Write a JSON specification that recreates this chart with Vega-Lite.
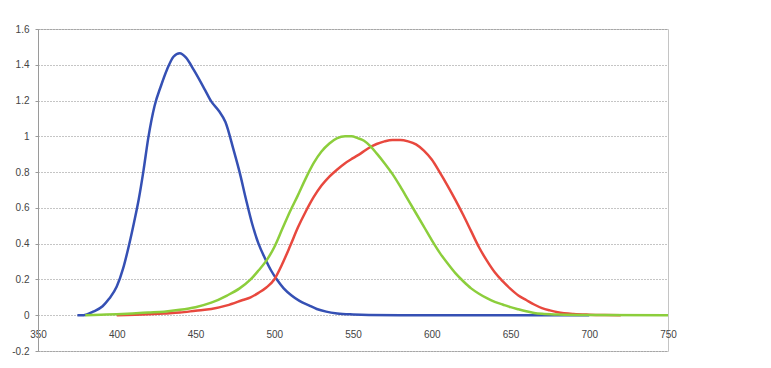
{
  "$schema": "https://vega.github.io/schema/vega-lite/v6.json",
  "autosize": "none",
  "width": 630,
  "height": 322,
  "padding": {"left": 38, "top": 29, "right": 103, "bottom": 17},
  "background": "white",
  "config": {
    "view": {"stroke": "#c4c4c4", "strokeWidth": 1},
    "axis": {"labelFont": "Liberation Sans", "labelFontSize": 10, "labelColor": "#444"}
  },
  "datasets": {
    "S": [
      {"wl": 375, "v": 0}, {"wl": 379, "v": 0}, {"wl": 385, "v": 0.02}, {"wl": 391, "v": 0.05}, {"wl": 395, "v": 0.09},
      {"wl": 400, "v": 0.16}, {"wl": 404, "v": 0.26}, {"wl": 408, "v": 0.40}, {"wl": 411, "v": 0.52}, {"wl": 414, "v": 0.65},
      {"wl": 417, "v": 0.81}, {"wl": 420, "v": 0.99}, {"wl": 424, "v": 1.17}, {"wl": 428, "v": 1.28}, {"wl": 432, "v": 1.375},
      {"wl": 436, "v": 1.445}, {"wl": 440, "v": 1.465}, {"wl": 444, "v": 1.44}, {"wl": 449, "v": 1.37}, {"wl": 456, "v": 1.26},
      {"wl": 460, "v": 1.195}, {"wl": 465, "v": 1.14}, {"wl": 469, "v": 1.08}, {"wl": 474, "v": 0.93}, {"wl": 478, "v": 0.80},
      {"wl": 482, "v": 0.65}, {"wl": 486, "v": 0.51}, {"wl": 490, "v": 0.40}, {"wl": 494, "v": 0.32}, {"wl": 498, "v": 0.25},
      {"wl": 502, "v": 0.195}, {"wl": 506, "v": 0.15}, {"wl": 511, "v": 0.11}, {"wl": 516, "v": 0.08}, {"wl": 522, "v": 0.055},
      {"wl": 527, "v": 0.035}, {"wl": 533, "v": 0.02}, {"wl": 540, "v": 0.01}, {"wl": 550, "v": 0.004}, {"wl": 560, "v": 0.001},
      {"wl": 580, "v": 0}, {"wl": 620, "v": 0}, {"wl": 660, "v": 0}, {"wl": 700, "v": 0}
    ],
    "M": [
      {"wl": 380, "v": 0}, {"wl": 390, "v": 0.003}, {"wl": 400, "v": 0.006}, {"wl": 410, "v": 0.01}, {"wl": 420, "v": 0.015},
      {"wl": 430, "v": 0.02}, {"wl": 440, "v": 0.03}, {"wl": 450, "v": 0.045}, {"wl": 460, "v": 0.07}, {"wl": 470, "v": 0.11},
      {"wl": 478, "v": 0.15}, {"wl": 485, "v": 0.2}, {"wl": 490, "v": 0.25}, {"wl": 495, "v": 0.305}, {"wl": 500, "v": 0.38},
      {"wl": 505, "v": 0.48}, {"wl": 510, "v": 0.58}, {"wl": 515, "v": 0.67}, {"wl": 520, "v": 0.765}, {"wl": 525, "v": 0.85},
      {"wl": 530, "v": 0.915}, {"wl": 535, "v": 0.96}, {"wl": 540, "v": 0.99}, {"wl": 545, "v": 1.0}, {"wl": 549, "v": 1.0},
      {"wl": 553, "v": 0.99}, {"wl": 557, "v": 0.975}, {"wl": 561, "v": 0.945}, {"wl": 565, "v": 0.905}, {"wl": 570, "v": 0.85},
      {"wl": 575, "v": 0.79}, {"wl": 580, "v": 0.72}, {"wl": 585, "v": 0.645}, {"wl": 590, "v": 0.57}, {"wl": 595, "v": 0.495},
      {"wl": 600, "v": 0.42}, {"wl": 605, "v": 0.35}, {"wl": 610, "v": 0.29}, {"wl": 615, "v": 0.235}, {"wl": 620, "v": 0.19},
      {"wl": 625, "v": 0.15}, {"wl": 630, "v": 0.12}, {"wl": 635, "v": 0.095}, {"wl": 640, "v": 0.075}, {"wl": 645, "v": 0.06},
      {"wl": 650, "v": 0.045}, {"wl": 655, "v": 0.033}, {"wl": 660, "v": 0.022}, {"wl": 665, "v": 0.013}, {"wl": 670, "v": 0.008},
      {"wl": 680, "v": 0.004}, {"wl": 700, "v": 0.001}, {"wl": 750, "v": 0}
    ],
    "L": [
      {"wl": 400, "v": 0}, {"wl": 420, "v": 0.005}, {"wl": 430, "v": 0.01}, {"wl": 440, "v": 0.015}, {"wl": 450, "v": 0.025},
      {"wl": 460, "v": 0.035}, {"wl": 470, "v": 0.055}, {"wl": 480, "v": 0.085}, {"wl": 485, "v": 0.10}, {"wl": 490, "v": 0.125},
      {"wl": 495, "v": 0.155}, {"wl": 500, "v": 0.2}, {"wl": 505, "v": 0.285}, {"wl": 510, "v": 0.385}, {"wl": 515, "v": 0.49},
      {"wl": 520, "v": 0.58}, {"wl": 525, "v": 0.66}, {"wl": 530, "v": 0.725}, {"wl": 535, "v": 0.775}, {"wl": 540, "v": 0.815},
      {"wl": 545, "v": 0.85}, {"wl": 550, "v": 0.878}, {"wl": 555, "v": 0.905}, {"wl": 560, "v": 0.935}, {"wl": 565, "v": 0.957},
      {"wl": 570, "v": 0.972}, {"wl": 575, "v": 0.98}, {"wl": 580, "v": 0.98}, {"wl": 585, "v": 0.972}, {"wl": 590, "v": 0.955},
      {"wl": 595, "v": 0.92}, {"wl": 600, "v": 0.87}, {"wl": 605, "v": 0.8}, {"wl": 610, "v": 0.725}, {"wl": 615, "v": 0.645},
      {"wl": 620, "v": 0.56}, {"wl": 625, "v": 0.47}, {"wl": 630, "v": 0.38}, {"wl": 635, "v": 0.305}, {"wl": 640, "v": 0.24},
      {"wl": 645, "v": 0.19}, {"wl": 650, "v": 0.147}, {"wl": 655, "v": 0.11}, {"wl": 660, "v": 0.085}, {"wl": 665, "v": 0.06},
      {"wl": 670, "v": 0.04}, {"wl": 675, "v": 0.027}, {"wl": 680, "v": 0.017}, {"wl": 690, "v": 0.007}, {"wl": 700, "v": 0.003},
      {"wl": 710, "v": 0.001}, {"wl": 720, "v": 0}
    ]
  },
  "layer": [
    {
      "data": {"name": "S"},
      "mark": {"type": "line", "color": "#3550b4", "strokeWidth": 2.5, "interpolate": "monotone"},
      "encoding": {
        "x": {
          "field": "wl", "type": "quantitative",
          "scale": {"domain": [350, 750], "nice": false, "zero": false},
          "axis": {
            "title": null, "values": [350, 400, 450, 500, 550, 600, 650, 700, 750], "tickCount": 30,
            "offset": -36, "domain": false, "ticks": false, "grid": false,
            "labelPadding": 14, "labelFlush": false, "labelOverlap": false
          }
        },
        "y": {
          "field": "v", "type": "quantitative",
          "scale": {"domain": [-0.2, 1.6], "nice": false, "zero": false},
          "axis": {
            "title": null, "values": [-0.2, 0, 0.2, 0.4, 0.6, 0.8, 1, 1.2, 1.4, 1.6], "tickCount": 30,
            "labelExpr": "'' + datum.value",
            "domain": true, "domainColor": "#9a9a9a", "ticks": true, "tickSize": 3, "tickColor": "#9a9a9a",
            "labelPadding": 6, "labelFlush": false, "labelOverlap": false,
            "grid": true, "gridColor": "#8a8a8a", "gridDash": [1, 2], "gridWidth": 1
          }
        }
      }
    },
    {
      "data": {"name": "L"},
      "mark": {"type": "line", "color": "#e8483e", "strokeWidth": 2.5, "interpolate": "monotone"},
      "encoding": {
        "x": {"field": "wl", "type": "quantitative"},
        "y": {"field": "v", "type": "quantitative"}
      }
    },
    {
      "data": {"name": "M"},
      "mark": {"type": "line", "color": "#8cce3c", "strokeWidth": 2.5, "interpolate": "monotone"},
      "encoding": {
        "x": {"field": "wl", "type": "quantitative"},
        "y": {"field": "v", "type": "quantitative"}
      }
    }
  ]
}
